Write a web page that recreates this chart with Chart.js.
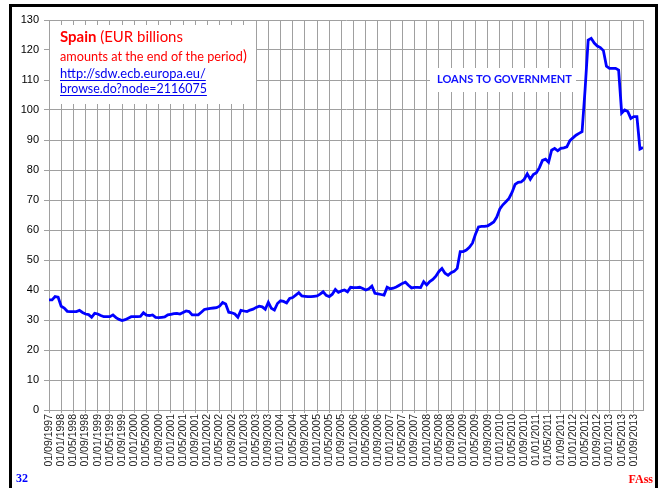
<!DOCTYPE html>
<html>
<head>
<meta charset="utf-8">
<script src="https://cdn.jsdelivr.net/npm/chart.js@4.4.1/dist/chart.umd.min.js"></script>
<style>
  html, body { margin: 0; padding: 0; background: #ffffff; overflow: hidden; }
  #wrap { position: relative; width: 666px; height: 488px; }
  #frame { position: absolute; left: 9px; top: 4px; width: 649px; height: 500px; border: 3px solid #000; box-sizing: border-box; pointer-events: none; }
  #c { position: absolute; left: 0; top: 0; }
</style>
</head>
<body>
<div id="wrap">
  <canvas id="c" width="666" height="488"></canvas>
  <div id="frame"></div>
</div>
<script>
// ---- data ----
const startYear = 1997, startMonth = 9, endYear = 2013, endMonth = 12;
const categories = [];
for (let y = startYear, m = startMonth; y < endYear || (y === endYear && m <= endMonth); ) {
  categories.push('01/' + String(m).padStart(2, '0') + '/' + y);
  m++; if (m > 12) { m = 1; y++; }
}
const seriesName = 'LOANS TO GOVERNMENT';
const loansToGovernment = [
  36.7, 36.7, 37.8, 37.6, 34.6, 34.0, 32.9, 32.8, 32.8, 32.8,
  33.2, 32.5, 32.0, 31.8, 30.9, 32.2, 32.0, 31.5, 31.1, 31.1,
  31.1, 31.7, 30.8, 30.2, 29.8, 30.1, 30.6, 31.1, 31.1, 31.1,
  31.2, 32.4, 31.6, 31.5, 31.7, 30.9, 30.8, 30.9, 31.0, 31.7,
  31.9, 32.1, 32.2, 32.0, 32.5, 33.0, 32.8, 31.7, 31.7, 31.7,
  32.6, 33.5, 33.7, 33.9, 34.0, 34.1, 34.6, 35.8, 35.3, 32.6,
  32.4, 32.0, 30.9, 33.2, 33.0, 32.8, 33.3, 33.6, 34.2, 34.6,
  34.4, 33.6, 35.9, 33.9, 33.3, 35.5, 36.4, 36.2, 35.7, 37.2,
  37.5, 38.3, 39.1, 38.0, 37.9, 37.8, 37.8, 37.9, 38.0, 38.6,
  39.4, 38.2, 37.8, 38.6, 40.2, 39.2, 39.7, 40.0, 39.4, 40.9,
  40.8, 40.8, 40.9, 40.5, 40.0, 40.4, 41.3, 38.9, 38.7, 38.5,
  38.3, 40.9, 40.4, 40.6, 41.0, 41.6, 42.2, 42.6, 41.6, 40.7,
  40.9, 40.9, 40.8, 42.8, 41.7, 42.8, 43.5, 44.6, 46.2, 47.2,
  45.6, 44.9, 45.8, 46.2, 47.2, 52.8, 52.8, 53.3, 54.2, 55.6,
  58.6, 61.0, 61.2, 61.2, 61.4, 62.0, 62.7, 64.3, 67.0, 68.4,
  69.4, 70.5, 72.5, 75.2, 75.9, 76.0, 76.9, 78.7, 76.9, 78.5,
  79.1, 80.8, 83.2, 83.6, 82.6, 86.6, 87.2, 86.4, 87.2, 87.4,
  87.7, 89.8, 90.7, 91.6, 92.2, 92.8, 107.0, 123.3, 123.9, 122.3,
  121.3, 120.8, 119.8, 114.6, 113.9, 113.9, 113.9, 113.3, 99.0, 100.0,
  99.5, 97.2, 97.8, 97.8, 87.0, 87.5
];
const yTicks = [0, 10, 20, 30, 40, 50, 60, 70, 80, 90, 100, 110, 120, 130];
const tickEvery = 4;
const titleLines = ['Spain', ' (EUR billions', 'amounts at the end of the period', ')',
                    'http://sdw.ecb.europa.eu/', 'browse.do?node=2116075'];
const pageNumber = '32';
const signature = 'FAss';

// ---- annotation plugin ----
function fitSize(ctx, parts, target) {
  let w = 0;
  parts.forEach(p => { ctx.font = p.weight + ' ' + (10 * p.rel) + 'px Lato'; w += ctx.measureText(p.text).width; });
  return 10 * target / w;
}
function drawParts(ctx, parts, x, y, size, color, underline) {
  let cx = x;
  parts.forEach(p => {
    ctx.font = p.weight + ' ' + (size * p.rel) + 'px Lato';
    ctx.fillStyle = color;
    ctx.fillText(p.text, cx, y);
    cx += ctx.measureText(p.text).width;
  });
  if (underline) {
    ctx.strokeStyle = color; ctx.lineWidth = 1;
    ctx.beginPath(); ctx.moveTo(x, y + 2.5); ctx.lineTo(cx, y + 2.5); ctx.stroke();
  }
}
const annotations = {
  id: 'annotations',
  afterDraw(chart) {
    const ctx = chart.ctx, a = chart.chartArea;
    ctx.save();
    ctx.strokeStyle = '#a0a0a0'; ctx.lineWidth = 1;
    ctx.beginPath(); ctx.moveTo(Math.round(a.right) + 0.5, a.top); ctx.lineTo(Math.round(a.right) + 0.5, a.bottom); ctx.stroke();
    ctx.fillStyle = '#ffffff';
    ctx.fillRect(a.left + 1, a.top + 5, 206, 79);
    ctx.textBaseline = 'alphabetic'; ctx.textAlign = 'left';
    const l1 = [{text: titleLines[0], weight: 'bold', rel: 1}, {text: titleLines[1], weight: 'normal', rel: 1}];
    drawParts(ctx, l1, 60, 42, fitSize(ctx, l1, 123), '#ff0000', false);
    const l2 = [{text: titleLines[2], weight: 'normal', rel: 1}, {text: titleLines[3], weight: 'normal', rel: 1.15}];
    drawParts(ctx, l2, 60, 61, fitSize(ctx, l2, 187), '#ff0000', false);
    const l3 = [{text: titleLines[4], weight: 'normal', rel: 1}];
    drawParts(ctx, l3, 60, 78, fitSize(ctx, l3, 146), '#0000ee', true);
    const l4 = [{text: titleLines[5], weight: 'normal', rel: 1}];
    drawParts(ctx, l4, 60, 93, fitSize(ctx, l4, 147), '#0000ee', true);
    ctx.fillStyle = '#ffffff';
    ctx.fillRect(430, 68, 146, 24);
    const l5 = [{text: seriesName, weight: 'bold', rel: 1}];
    drawParts(ctx, l5, 437, 83, fitSize(ctx, l5, 135), '#1010ff', false);
    ctx.font = 'bold 12px "Liberation Serif"';
    ctx.fillStyle = '#0000ff';
    ctx.fillText(pageNumber, 16, 482);
    ctx.fillStyle = '#ff0000';
    ctx.textAlign = 'right';
    ctx.fillText(signature, 653, 483);
    ctx.restore();
  }
};

new Chart(document.getElementById('c'), {
  type: 'line',
  data: {
    labels: categories,
    datasets: [{
      label: seriesName,
      data: loansToGovernment,
      borderColor: '#0000ff',
      borderWidth: 2.8,
      pointRadius: 0,
      tension: 0,
      fill: false
    }]
  },
  options: {
    responsive: false,
    devicePixelRatio: 1,
    animation: false,
    layout: { padding: { top: 20, right: 23, left: 0, bottom: 0 } },
    plugins: { legend: { display: false }, tooltip: { enabled: false } },
    scales: {
      x: {
        type: 'category',
        offset: false,
        afterFit(s) { s.height = 78; },
        grid: { color: '#a0a0a0', lineWidth: 1, tickLength: 3, drawTicks: true },
        border: { color: '#a0a0a0' },
        ticks: {
          autoSkip: false, maxRotation: 90, minRotation: 90, padding: 1,
          color: '#222222',
          font: { family: 'Liberation Sans', size: 10.5 },
          callback(value, index) { return index % tickEvery === 0 ? this.getLabelForValue(value) : null; }
        }
      },
      y: {
        min: yTicks[0], max: yTicks[yTicks.length - 1],
        afterFit(s) { s.width = 49; },
        afterBuildTicks(s) { s.ticks = yTicks.map(v => ({ value: v })); },
        grid: { color: '#a0a0a0', lineWidth: 1, tickLength: 5 },
        border: { color: '#a0a0a0' },
        ticks: { padding: 5, color: '#000000', font: { family: 'Liberation Sans', size: 11 } }
      }
    }
  },
  plugins: [annotations]
});
</script>
</body>
</html>
